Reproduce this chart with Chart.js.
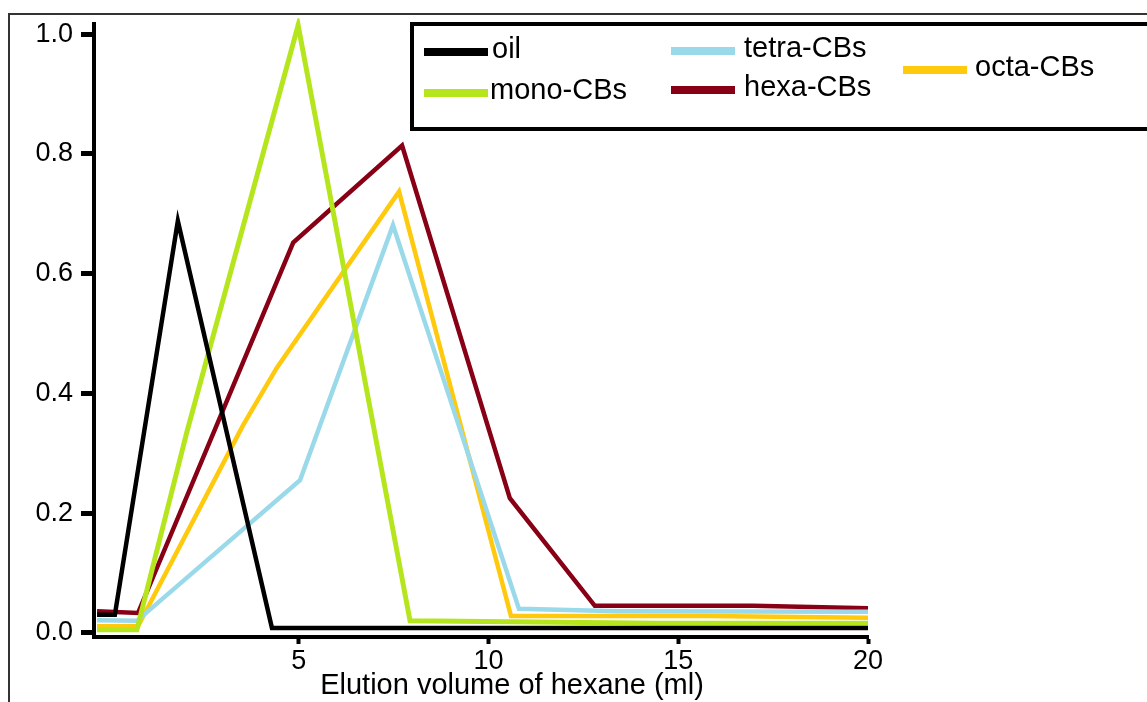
<!DOCTYPE html>
<html>
<head>
<meta charset="utf-8">
<script src="https://cdn.jsdelivr.net/npm/chart.js@4/dist/chart.umd.min.js"></script>
<style>
html, body { margin: 0; padding: 0; background: #fff; }
#wrap { width: 1147px; height: 702px; }
</style>
</head>
<body>
<div id="wrap"><canvas id="chart" width="1147" height="702"></canvas></div>
<script>
// series (x = ml of hexane, y = fraction eluted)
const seriesNames = ["oil", "mono-CBs", "tetra-CBs", "hexa-CBs", "octa-CBs"];
const seriesColors = ["#000000", "#b5e61d", "#99d9ea", "#880015", "#ffc90e"];

const oilX = [-0.32, 0.15, 1.81, 4.29, 20];
const oilY = [0.030, 0.030, 0.688, 0.008, 0.008];

const monoX = [-0.32, 0.73, 2.05, 4.98, 7.93, 14.44, 20];
const monoY = [0.005, 0.005, 0.336, 1.015, 0.020, 0.016, 0.016];

const tetraX = [-0.32, 0.73, 5.03, 7.48, 10.80, 13.41, 20];
const tetraY = [0.021, 0.020, 0.255, 0.681, 0.040, 0.036, 0.035];

const hexaX = [-0.32, 0.76, 4.85, 7.72, 10.56, 12.80, 16.97, 20];
const hexaY = [0.036, 0.033, 0.652, 0.814, 0.225, 0.045, 0.045, 0.041];

const octaX = [-0.32, 0.76, 3.53, 4.42, 7.64, 10.59, 15.78, 20];
const octaY = [0.011, 0.011, 0.347, 0.443, 0.737, 0.028, 0.028, 0.025];

const xTicks = [5, 10, 15, 20];
const yTicks = [0, 0.2, 0.4, 0.6, 0.8, 1.0];
const xTitle = "Elution volume of hexane (ml)";

const allX = [oilX, monoX, tetraX, hexaX, octaX];
const allY = [oilY, monoY, tetraY, hexaY, octaY];

const FONT = "'Liberation Sans', Arial, sans-serif";

function main() {
    // build {x, y} points for every series
    let datasets = seriesNames.map((name, i) => ({
        label: name,
        data: allX[i].map((x, j) => ({ x: x, y: allY[i][j] })),
        borderColor: seriesColors[i],
        backgroundColor: seriesColors[i],
        borderWidth: i === 1 ? 5 : 4.5,
        pointRadius: 0,
        tension: 0,
        clip: 6
    }));

    // frame, legend box and axis title
    let extras = {
        id: "extras",
        beforeDraw(chart) {
            let ctx = chart.ctx;
            ctx.save();
            ctx.fillStyle = "#fff";
            ctx.fillRect(0, 0, chart.width, chart.height);
            ctx.strokeStyle = "#333";
            ctx.lineWidth = 2;
            ctx.beginPath();
            ctx.moveTo(9, chart.height);
            ctx.lineTo(9, 14);
            ctx.lineTo(chart.width, 14);
            ctx.stroke();
            ctx.restore();
        },
        afterDraw(chart) {
            let ctx = chart.ctx;
            ctx.save();
            ctx.fillStyle = "#fff";
            ctx.fillRect(412, 24, chart.width, 105);
            ctx.strokeStyle = "#000";
            ctx.lineWidth = 4;
            ctx.strokeRect(412, 24, chart.width, 105);

            let items = [
                { line: 424, text: 492, y: 52 },
                { line: 424, text: 490, y: 93 },
                { line: 671, text: 744, y: 51 },
                { line: 671, text: 744, y: 90 },
                { line: 903, text: 975, y: 70 }
            ];
            ctx.font = "29px " + FONT;
            ctx.textBaseline = "middle";
            ctx.textAlign = "left";
            items.forEach((it, i) => {
                ctx.strokeStyle = seriesColors[i];
                ctx.lineWidth = 8;
                ctx.beginPath();
                ctx.moveTo(it.line, it.y);
                ctx.lineTo(it.line + 64, it.y);
                ctx.stroke();
                ctx.fillStyle = "#000";
                ctx.fillText(seriesNames[i], it.text, it.y - 2);
            });

            ctx.textAlign = "center";
            ctx.fillText(xTitle, 512, 686);
            ctx.restore();
        }
    };

    new Chart(document.getElementById("chart"), {
        type: "line",
        data: { datasets: datasets },
        options: {
            responsive: false,
            animation: false,
            layout: { padding: { left: 0, top: 23, right: 279, bottom: 0 } },
            plugins: { legend: { display: false }, tooltip: { enabled: false } },
            scales: {
                x: {
                    type: "linear",
                    min: -0.40,
                    max: 20,
                    afterBuildTicks: s => { s.ticks = xTicks.map(v => ({ value: v })); },
                    afterFit: s => { s.height = 65; },
                    border: { display: true, color: "#000", width: 4 },
                    grid: { drawOnChartArea: false, color: "#000", tickLength: 7, tickWidth: 4 },
                    ticks: { color: "#000", font: { family: FONT, size: 27 }, padding: 1, maxRotation: 0 }
                },
                y: {
                    min: -0.007,
                    max: 1.0167,
                    afterBuildTicks: s => { s.ticks = yTicks.map(v => ({ value: v })); },
                    afterFit: s => { s.width = 94; },
                    border: { display: true, color: "#000", width: 4 },
                    grid: { drawOnChartArea: false, color: "#000", tickLength: 13, tickWidth: 5 },
                    ticks: {
                        color: "#000",
                        font: { family: FONT, size: 27 },
                        padding: 8,
                        callback: v => v.toFixed(1)
                    }
                }
            }
        },
        plugins: [extras]
    });
}

document.addEventListener("DOMContentLoaded", main);
</script>
</body>
</html>
